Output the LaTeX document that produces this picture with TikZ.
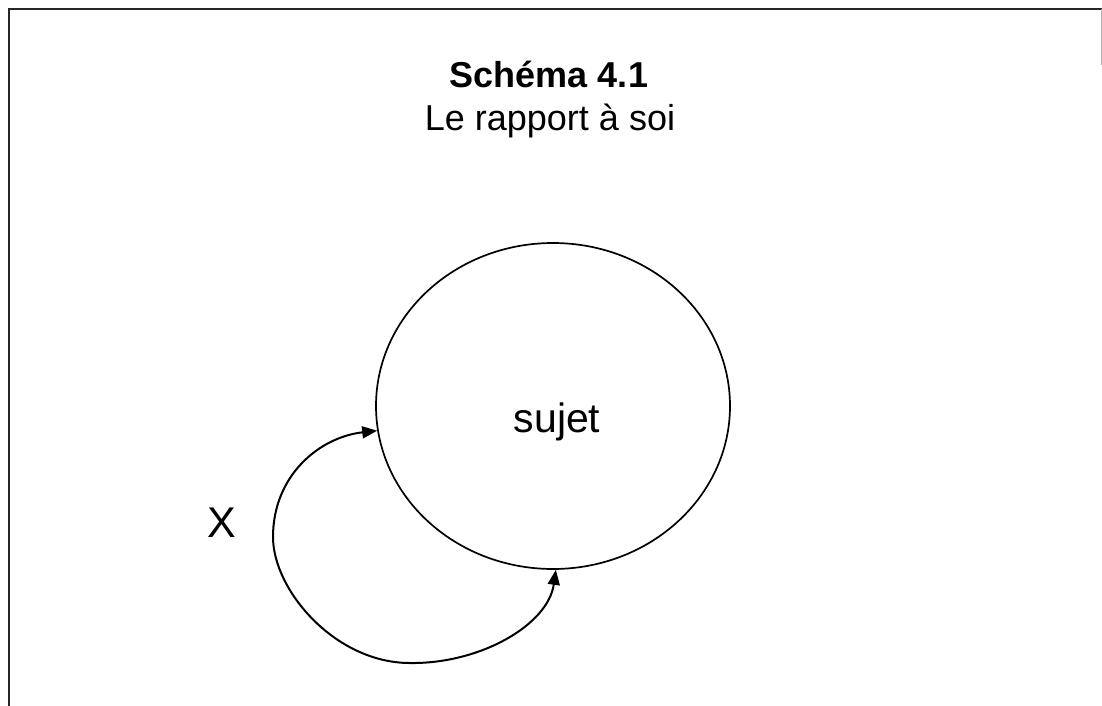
\documentclass[tikz,border=0pt]{standalone}
\usepackage{fontspec}
\setmainfont{Liberation Sans}
\usetikzlibrary{arrows.meta,shapes.geometric}
\begin{document}
\begin{tikzpicture}[x=1pt,y=-1pt,
  framestyle/.style={line width=2.2pt,black!85},
  loopstyle/.style={line width=2pt,{Triangle[length=15pt,width=12pt]}-{Triangle[length=15pt,width=12pt]}},
  txt/.style={inner sep=0pt,anchor=base}]
\useasboundingbox (0,0) rectangle (1102,706);
% frame
\coordinate (tl) at (9,9);
\coordinate (tr) at (1102,9);
\coordinate (bl) at (9,706);
\coordinate (rb) at (1101,65);
\draw[framestyle] (bl) -- (tl) -- (tr);
\draw[line width=0.8pt,black!30] (1101,9) -- (rb);
% titles
\node[txt,font=\fontsize{36}{42}\selectfont\bfseries] (title) at (549,88) {Schéma 4.1};
\node[txt,font=\fontsize{36}{42}\selectfont] (subtitle) at (550,130) {Le rapport à soi};
% ellipse
\node[draw,ellipse,line width=1.7pt,minimum width=354pt,minimum height=326pt,inner sep=0pt] (sujet) at (553,406) {};
\node[txt,font=\fontsize{41}{48}\selectfont] (sujetlabel) at (557,432) {sujet};
\node[txt,font=\fontsize{43}{50}\selectfont] (x) at (222,537) {X};
% loop
\coordinate (bot) at (410,663);
\coordinate (lft) at (273,537);
\draw[loopstyle] (sujet.271.4) .. controls (548,625) and (480,664) .. (bot)
  .. controls (335,663) and (273,590) .. (lft)
  .. controls (273,475) and (320,437) .. (sujet.188.3);
\end{tikzpicture}
\end{document}
